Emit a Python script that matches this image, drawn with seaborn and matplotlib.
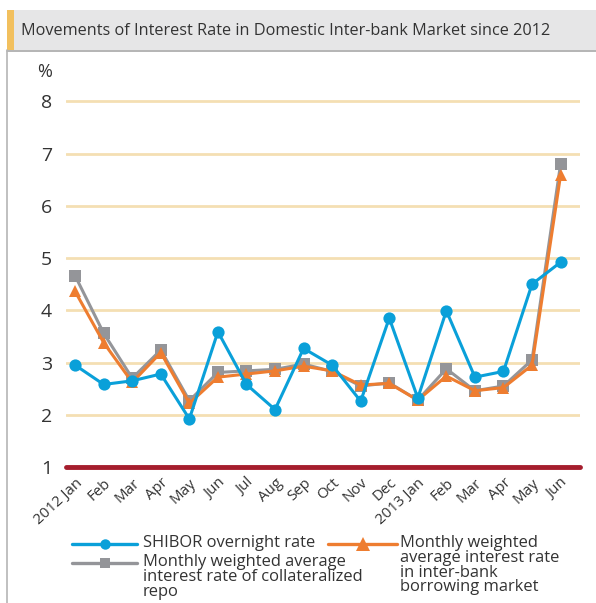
import numpy as np
import pandas as pd
import seaborn as sns
import matplotlib
matplotlib.use("Agg")
import matplotlib.pyplot as plt
from matplotlib.patches import Rectangle
from matplotlib.lines import Line2D

# ---- data ----
months = ["2012 Jan", "Feb", "Mar", "Apr", "May", "Jun", "Jul", "Aug", "Sep",
          "Oct", "Nov", "Dec", "2013 Jan", "Feb", "Mar", "Apr", "May", "Jun"]
shibor = [2.95, 2.58, 2.65, 2.78, 1.92, 3.59, 2.58, 2.10, 3.27,
          2.95, 2.26, 3.85, 2.32, 3.99, 2.72, 2.83, 4.50, 4.92]
repo = [4.66, 3.56, 2.70, 3.24, 2.27, 2.81, 2.84, 2.87, 2.97,
        2.83, 2.55, 2.61, 2.28, 2.88, 2.46, 2.55, 3.05, 6.80]
interbank = [4.36, 3.38, 2.62, 3.19, 2.22, 2.72, 2.78, 2.84, 2.93,
             2.84, 2.57, 2.60, 2.28, 2.74, 2.46, 2.52, 2.95, 6.59]
yticks = [1, 2, 3, 4, 5, 6, 7, 8]

title = "Movements of Interest Rate in Domestic Inter-bank Market since 2012"
lab_shibor = "SHIBOR overnight rate"
lab_repo = "Monthly weighted average\ninterest rate of collateralized\nrepo"
lab_inter = "Monthly weighted\naverage interest rate\nin inter-bank\nborrowing market"

BLUE = "#0aa0d9"
ORANGE = "#ee7d30"
GREY = "#949599"
RED = "#a51d2d"
GRID = "#f4dfb3"
TXT = "#333333"

sns.set_theme(style="white")
plt.rcParams["font.family"] = ["Open Sans", "DejaVu Sans"]

W, H = 596, 603
fig = plt.figure(figsize=(W / 100, H / 100), dpi=100)
fig.patch.set_facecolor("white")


def fx(px):
    return px / W


def fy(py):
    return 1 - py / H


# title bar
fig.patches.append(Rectangle((fx(7), fy(50)), 1 - fx(7), 40 / H,
                             transform=fig.transFigure, facecolor="#e6e6e7",
                             edgecolor="none", zorder=0))
fig.patches.append(Rectangle((fx(7), fy(50)), 7 / W, 40 / H,
                             transform=fig.transFigure, facecolor="#f2c05e",
                             edgecolor="none", zorder=1))
fig.lines.append(Line2D([fx(7), 1], [fy(50.5), fy(50.5)],
                        transform=fig.transFigure, color="#a8a8a8", lw=1.2))
fig.lines.append(Line2D([fx(7.5), fx(7.5)], [0, fy(50)],
                        transform=fig.transFigure, color="#b5b5b5", lw=1.2))
fig.text(fx(21), fy(31), title, fontsize=11.7, color=TXT, va="center", ha="left")

ax = fig.add_axes([66 / W, 136 / H, 514 / W, (467 - 70) / H])
x = np.arange(len(months))
df = pd.DataFrame({"x": x, "shibor": shibor, "repo": repo, "inter": interbank})

sns.lineplot(data=df, x="x", y="repo", ax=ax, color=GREY, marker="s",
             markersize=8, linewidth=2.2, markeredgewidth=0, zorder=3)
sns.lineplot(data=df, x="x", y="inter", ax=ax, color=ORANGE, marker="^",
             markersize=9, linewidth=2.2, markeredgewidth=0, zorder=4)
sns.lineplot(data=df, x="x", y="shibor", ax=ax, color=BLUE, marker="o",
             markersize=8.8, linewidth=2.2, markeredgewidth=0, zorder=5)

ax.set_xlim(-0.32, 17.68)
ax.set_ylim(1, 8.6)
ax.set_yticks(yticks)
ax.set_yticklabels([str(v) for v in yticks], fontsize=14, color=TXT)
ax.set_xticks(x)
ax.set_xticklabels(months, rotation=43, ha="right", rotation_mode="anchor",
                   fontsize=10.8, color=TXT)
ax.tick_params(axis="y", length=0, pad=10)
ax.tick_params(axis="x", length=0, pad=6)
ax.yaxis.grid(True, color=GRID, lw=2)
ax.xaxis.grid(False)
for s in ax.spines.values():
    s.set_visible(False)
ax.axhline(1, color=RED, lw=3.5, zorder=6, clip_on=False)
ax.set_xlabel("")
ax.set_ylabel("")
ax.set_facecolor("white")
fig.text(fx(45), fy(72), "%", fontsize=13, color=TXT, ha="center", va="center")

# legend (handles aligned with the first line of each label)
LEG_FS = 11.9
legend_items = [
    (lab_shibor, BLUE, "o", 7.5, 72, 137, 544, 143),
    (lab_repo, GREY, "s", 7.2, 72, 137, 563, 143),
    (lab_inter, ORANGE, "^", 9.5, 328, 397, 544, 400),
]
for lab, col, mk, ms, x0, x1, yy, tx in legend_items:
    fig.lines.append(Line2D([fx(x0), fx(x1)], [fy(yy), fy(yy)],
                            transform=fig.transFigure, color=col, lw=2.4))
    fig.lines.append(Line2D([fx((x0 + x1) / 2)], [fy(yy)], marker=mk,
                            markersize=ms, markeredgewidth=0, color=col,
                            transform=fig.transFigure, lw=0))
    fig.text(fx(tx), fy(yy - 9), lab, fontsize=LEG_FS, color=TXT, ha="left",
             va="top", linespacing=0.9)

fig.savefig("out.png", dpi=100)
